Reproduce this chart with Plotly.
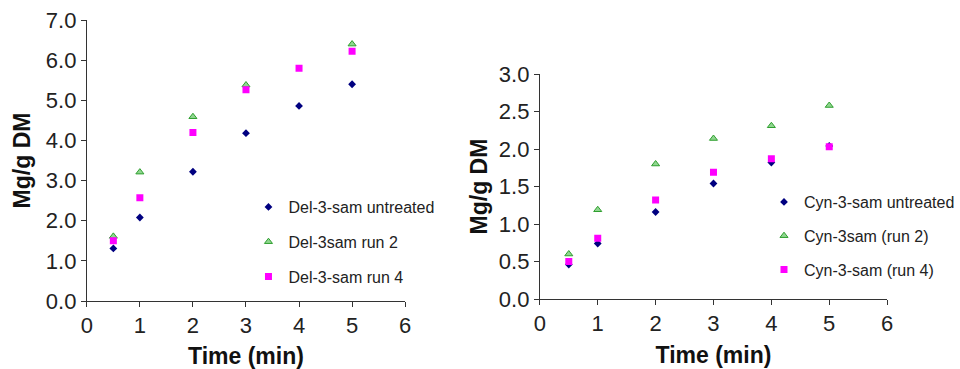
import plotly.graph_objects as go

time_min = [0.5, 1, 2, 3, 4, 5]

# Left chart (Del-3-sam)
del_untreated = [1.31, 2.08, 3.22, 4.18, 4.86, 5.40]
del_run2 = [1.61, 3.21, 4.59, 5.38, None, 6.40]
del_run4 = [1.50, 2.57, 4.20, 5.26, 5.80, 6.22]

# Right chart (Cyn-3-sam)
cyn_untreated = [0.46, 0.74, 1.16, 1.54, 1.82, 2.04]
cyn_run2 = [0.60, 1.19, 1.80, 2.14, 2.31, 2.58]
cyn_run4 = [0.50, 0.81, 1.32, 1.69, 1.87, 2.03]

left_names = ["Del-3-sam untreated", "Del-3sam run 2", "Del-3-sam run 4"]
right_names = ["Cyn-3-sam untreated", "Cyn-3sam (run 2)", "Cyn-3-sam (run 4)"]

FONT = "Arial, Liberation Sans, sans-serif"
styles = [
    dict(symbol="diamond", size=6, color="#000080", line=dict(width=0)),
    dict(symbol="triangle-up", size=7, color="#8fd68f", line=dict(width=1, color="#2f9f2f")),
    dict(symbol="square", size=7, color="#ff00ff", line=dict(width=0)),
]

fig = go.Figure()
for i, (vals, name) in enumerate(zip([del_untreated, del_run2, del_run4], left_names)):
    fig.add_trace(go.Scatter(x=time_min, y=vals, mode="markers", name=name,
                             marker=styles[i], xaxis="x", yaxis="y",
                             legend="legend", legendgroup="L%d" % i))
for i, (vals, name) in enumerate(zip([cyn_untreated, cyn_run2, cyn_run4], right_names)):
    fig.add_trace(go.Scatter(x=time_min, y=vals, mode="markers", name=name,
                             marker=styles[i], xaxis="x2", yaxis="y2",
                             legend="legend2", legendgroup="R%d" % i))

axis_common = dict(showline=True, linecolor="#333333", linewidth=1, ticks="outside",
                   ticklen=5, tickcolor="#333333", showgrid=False, zeroline=False,
                   automargin=False,
                   tickfont=dict(family=FONT, size=22, color="#222222"))
title_font = dict(family=FONT, size=23, color="#111111")

W = 945.0  # effective layout width observed in the renderer
H = 369.0

fig.update_layout(
    width=960, height=369,
    margin=dict(l=0, r=0, t=0, b=0),
    paper_bgcolor="white", plot_bgcolor="white",
    showlegend=True,
    xaxis=dict(domain=[87/W, 406/W], range=[0, 6], dtick=1, anchor="y",
               title=dict(text="<b>Time (min)</b>", font=title_font, standoff=11), **axis_common),
    yaxis=dict(domain=[1-301/H, 1-20/H], range=[0, 7], dtick=1, tickformat=".1f", anchor="x",
               title=dict(text="<b>Mg/g DM</b>", font=title_font, standoff=8), **axis_common),
    xaxis2=dict(domain=[541/W, 889/W], range=[0, 6], dtick=1, anchor="y2",
                title=dict(text="<b>Time (min)</b>", font=title_font, standoff=11), **axis_common),
    yaxis2=dict(domain=[1-299/H, 1-74/H], range=[0, 3], dtick=0.5, tickformat=".1f", anchor="x2",
                title=dict(text="<b>Mg/g DM</b>", font=title_font, standoff=4), **axis_common),
    legend=dict(x=249/W, y=1-190/H, xanchor="left", yanchor="top",
                font=dict(family=FONT, size=16, color="#222222"), bgcolor="rgba(0,0,0,0)",
                tracegroupgap=11, itemwidth=30),
    legend2=dict(x=766/W, y=1-185/H, xanchor="left", yanchor="top",
                 font=dict(family=FONT, size=16, color="#222222"), bgcolor="rgba(0,0,0,0)",
                 tracegroupgap=10, itemwidth=30),
)

fig.write_html(
    "out.html",
    config={"displayModeBar": False, "responsive": False},
    post_script="document.documentElement.style.overflow='hidden';"
                "document.body.style.margin='0';document.body.style.padding='0';"
                "document.body.style.overflow='hidden';",
)
